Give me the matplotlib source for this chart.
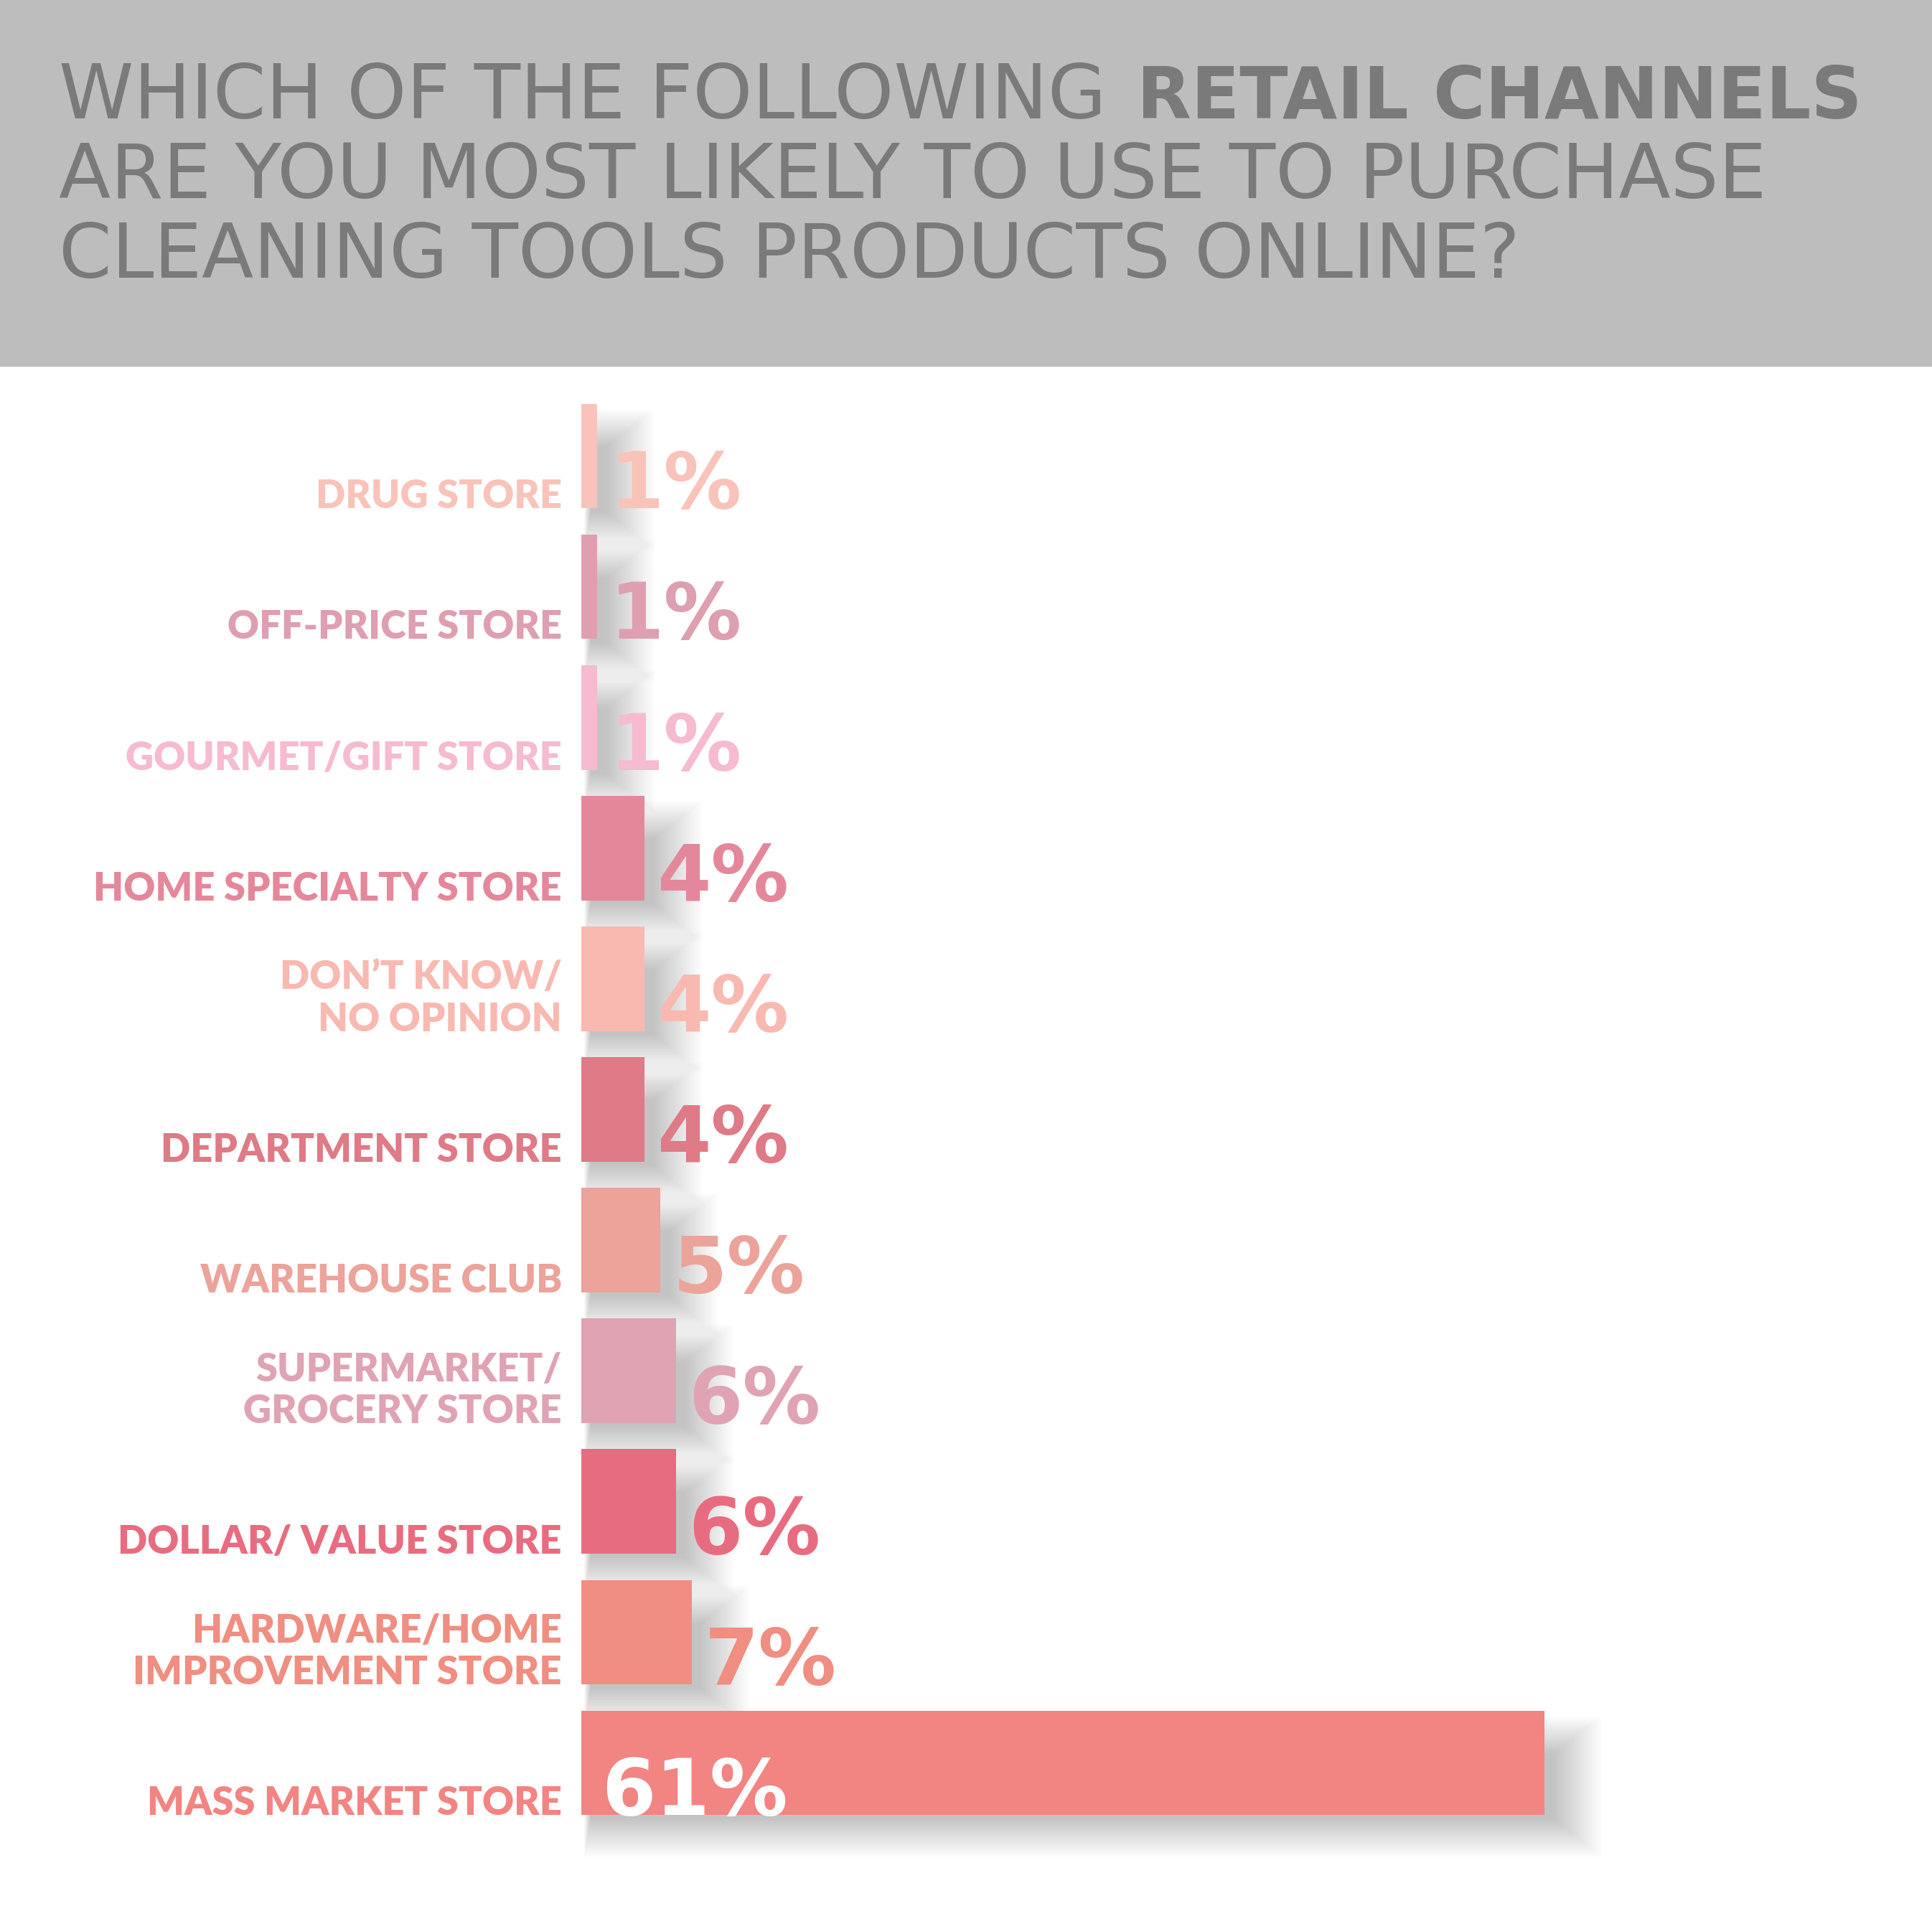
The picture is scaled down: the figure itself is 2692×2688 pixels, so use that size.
import matplotlib.pyplot as plt
from matplotlib.patches import Rectangle
import numpy as np

# data
categories = ["DRUG STORE", "OFF-PRICE STORE", "GOURMET/GIFT STORE",
              "HOME SPECIALTY STORE", "DON’T KNOW/\nNO OPINION",
              "DEPARTMENT STORE", "WAREHOUSE CLUB",
              "SUPERMARKET/\nGROCERY STORE", "DOLLAR/ VALUE STORE",
              "HARDWARE/HOME\nIMPROVEMENT STORE", "MASS MARKET STORE"]
values = [1, 1, 1, 4, 4, 4, 5, 6, 6, 7, 61]
colors = ["#F9C3B9", "#DE9FB0", "#F6BAD1", "#E5879B", "#F8B9B1",
          "#DF7A87", "#EBA39A", "#E0A3B3", "#E86C80", "#EF8E81", "#F28482"]

title_regular = "WHICH OF THE FOLLOWING"
title_bold = "RETAIL CHANNELS"
title_rest = ["ARE YOU MOST LIKELY TO USE TO PURCHASE",
              "CLEANING TOOLS PRODUCTS ONLINE?"]

W, H = 2692, 2688
fig = plt.figure(figsize=(W / 100, H / 100), dpi=100)
fig.patch.set_facecolor("white")

# grey header band
fig.add_artist(Rectangle((0, 1 - 510 / H), 1, 510 / H, transform=fig.transFigure,
                         color="#BDBDBD", zorder=0))

title_color = "#7A7A7A"
tx = 82 / W
t1 = fig.text(tx, 1 - 165 / H, title_regular, fontsize=76, color=title_color,
              va="baseline", ha="left")
fig.canvas.draw()
bb = t1.get_window_extent(renderer=fig.canvas.get_renderer())
fig.text((bb.x1 + 42) / W, 1 - 165 / H, title_bold, fontsize=71, color=title_color,
         fontweight="bold", va="baseline", ha="left")
for k, line in enumerate(title_rest):
    fig.text(tx, 1 - (276 + 110.5 * k) / H, line, fontsize=76, color=title_color,
             va="baseline", ha="left")

# bar area: value 0 at x=810 px, 22 px per percent
x0 = 810
px_per_pct = 22.0
top, bottom = 544.5, 2547.5
ax = fig.add_axes([x0 / W, 1 - bottom / H, (W - x0) / W, (bottom - top) / H])
ax.set_xlim(0, (W - x0) / px_per_pct)
ax.set_ylim(len(values) - 0.5, -0.5)
ax.axis("off")

y = np.arange(len(values))
vals = np.array(values, dtype=float)
bar_h = 0.8

# soft drop shadow, built up from many faint layers
for k in range(30):
    s = k * 0.01
    ax.barh(y + 0.18, vals + k * 0.12, height=bar_h - 0.3 + 2 * s,
            left=0.6 - k * 0.015, color="#000000", alpha=0.0075, zorder=1,
            linewidth=0, clip_on=False)

ax.barh(y, vals, height=bar_h, color=colors, zorder=3, linewidth=0)

for i, (cat, v, c) in enumerate(zip(categories, values, colors)):
    base = i + bar_h / 2
    lines = cat.split("\n")
    for j, line in enumerate(reversed(lines)):
        ax.annotate(line, xy=(-1.23, base), xytext=(0, j * 42),
                    textcoords="offset points", ha="right", va="baseline",
                    fontsize=39, fontweight="heavy", family="Lato", color=c,
                    zorder=4, annotation_clip=False)
    if v > 20:
        ax.text(1.3, base, f"{v}%", ha="left", va="baseline", fontsize=78,
                fontweight="bold", color="white", zorder=4)
    else:
        ax.text(v + 0.8, base, f"{v}%", ha="left", va="baseline", fontsize=78,
                fontweight="bold", color=c, zorder=4)

fig.savefig("out.png", dpi=100, facecolor="white")
